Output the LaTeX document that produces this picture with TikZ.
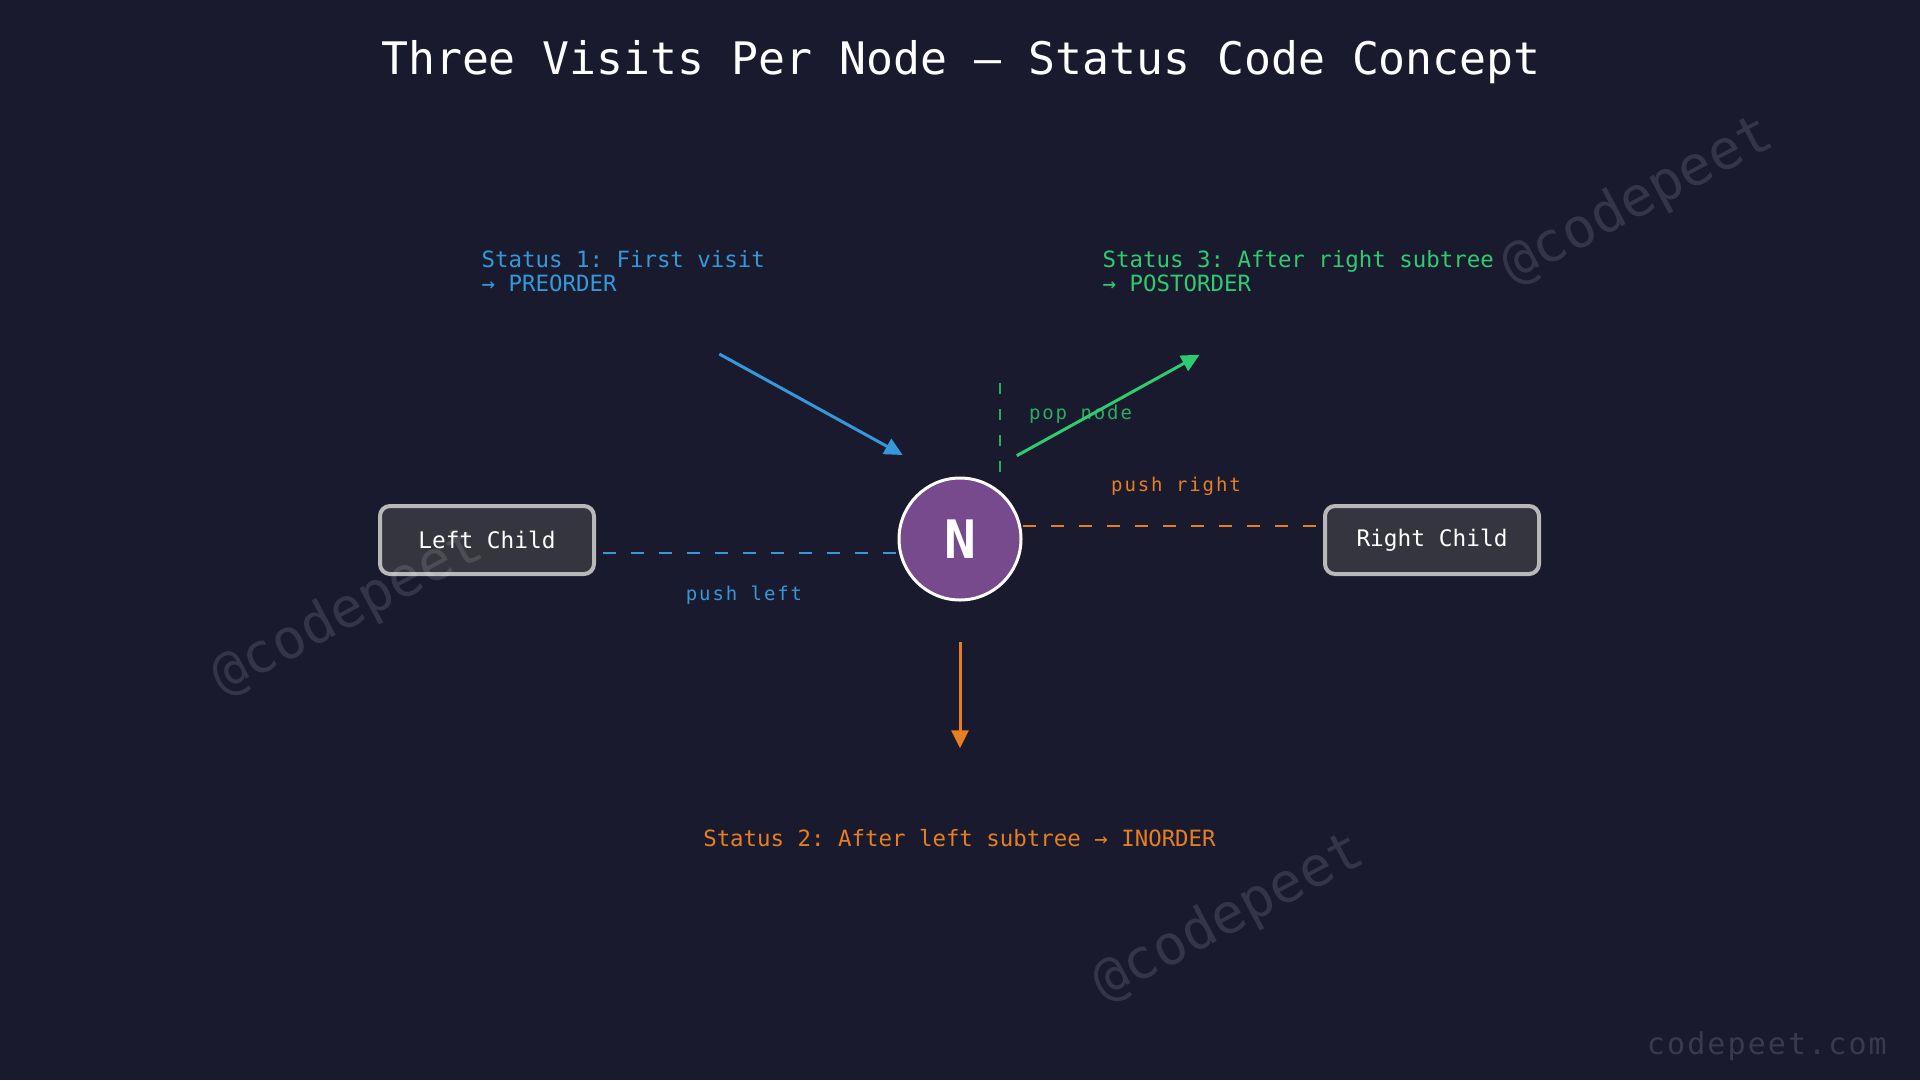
\documentclass[tikz,border=0pt]{standalone}
\usepackage{fontspec}
\setmainfont{DejaVu Sans Mono}
\newfontfamily\lblfont{DejaVu Sans Mono}[LetterSpace=10]
\newfontfamily\urlfont{DejaVu Sans Mono}[LetterSpace=7]
\usetikzlibrary{arrows.meta}
\frenchspacing
\definecolor{bg}{HTML}{1A1A2E}
\definecolor{cblue}{HTML}{3498DB}
\definecolor{cgreen}{HTML}{2ECC71}
\definecolor{corange}{HTML}{E67E22}
\definecolor{cpurple}{HTML}{774A8E}
\definecolor{boxfill}{HTML}{35353F}
\definecolor{boxline}{HTML}{B8B8B8}
\tikzset{
  stxt/.style={inner sep=0pt, font=\fontsize{22.4}{26}\selectfont},
  lbl/.style={inner sep=0pt, font=\lblfont\fontsize{19}{22}\selectfont},
  childbox/.style={draw=boxline, fill=boxfill, line width=4pt, rounded corners=10pt,
    minimum width=214pt, minimum height=68pt, inner sep=0pt, text=white,
    font=\fontsize{22.8}{26}\selectfont},
  arr/.style={line width=3pt, -{Triangle[length=18pt,width=17pt]}},
  hdash/.style={line width=2pt, dash pattern=on 13pt off 15pt},
  vdash/.style={line width=2pt, dash pattern=on 11pt off 15pt},
  wm/.style={rotate=28, text=white, text opacity=0.12, inner sep=0pt,
    font=\fontsize{55}{60}\selectfont},
}
\begin{document}
\begin{tikzpicture}[x=1pt,y=-1pt]
\fill[bg] (0,0) rectangle (1920,1080);
\useasboundingbox (0,0) rectangle (1920,1080);

% title
\node[anchor=base, text=white, inner sep=0pt, font=\fontsize{44.8}{50}\selectfont] (title) at (961,74) {Three Visits Per Node — Status Code Concept};

% status texts
\node[stxt, anchor=base west, text=cblue] (s1a) at (481.5,267.3) {Status 1: First visit};
\node[stxt, anchor=base west, text=cblue] (s1b) at (481.5,291.7) {→ PREORDER};
\node[stxt, anchor=base west, text=cgreen] (s3a) at (1102.5,267.3) {Status 3: After right subtree};
\node[stxt, anchor=base west, text=cgreen] (s3b) at (1102.5,291.7) {→ POSTORDER};
\node[stxt, anchor=base, text=corange] (s2) at (959.5,846.7) {Status 2: After left subtree → INORDER};

% main node and children
\node[circle, draw=white, line width=3pt, fill=cpurple, minimum size=122pt, inner sep=0pt,
  text=white, font=\bfseries\fontsize{53}{56}\selectfont] (N) at (960,539) {N};
\node[childbox] (lc) at (487,540) {Left Child};
\node[childbox] (rc) at (1432,540) {Right Child};

% dashed links
\draw[hdash, cblue] ([xshift=7pt]lc.east |- 0,553) -- (N.west |- 0,553);
\draw[hdash, corange] (N.east |- 0,526) -- (rc.west |- 0,526);
\coordinate (gd1) at (1000,383);
\coordinate (gd2) at (1000,472);
\draw[vdash, cgreen!85!black] (gd1) -- (gd2);

% labels
\node[lbl, anchor=base, text=cblue] (pl) at (744,600) {push left};
\node[lbl, anchor=base, text=corange] (pr) at (1176,491) {push right};
\node[lbl, anchor=base, text=cgreen!85!black] (pn) at (1080.5,419.3) {pop node};

% arrows
\coordinate (b1) at (719.3,354);
\coordinate (b2) at (902.7,455);
\draw[arr, cblue] (b1) -- (b2);
\coordinate (g1) at (1016.8,455.7);
\coordinate (g2) at (1199.6,354.7);
\draw[arr, cgreen] (g1) -- (g2);
\coordinate (o1) at (960,641.7);
\coordinate (o2) at (960,748.3);
\draw[arr, corange] (o1) -- (o2);

% watermarks
\node[wm] (wm1) at (1638,201) {@codepeet};
\node[wm] (wm2) at (348,612) {@codepeet};
\node[wm] (wm3) at (1229,918) {@codepeet};
\node[anchor=base east, inner sep=0pt, text=white, text opacity=0.14,
  font=\urlfont\fontsize{30}{34}\selectfont] (url) at (1887,1054) {codepeet.com};
\end{tikzpicture}
\end{document}
